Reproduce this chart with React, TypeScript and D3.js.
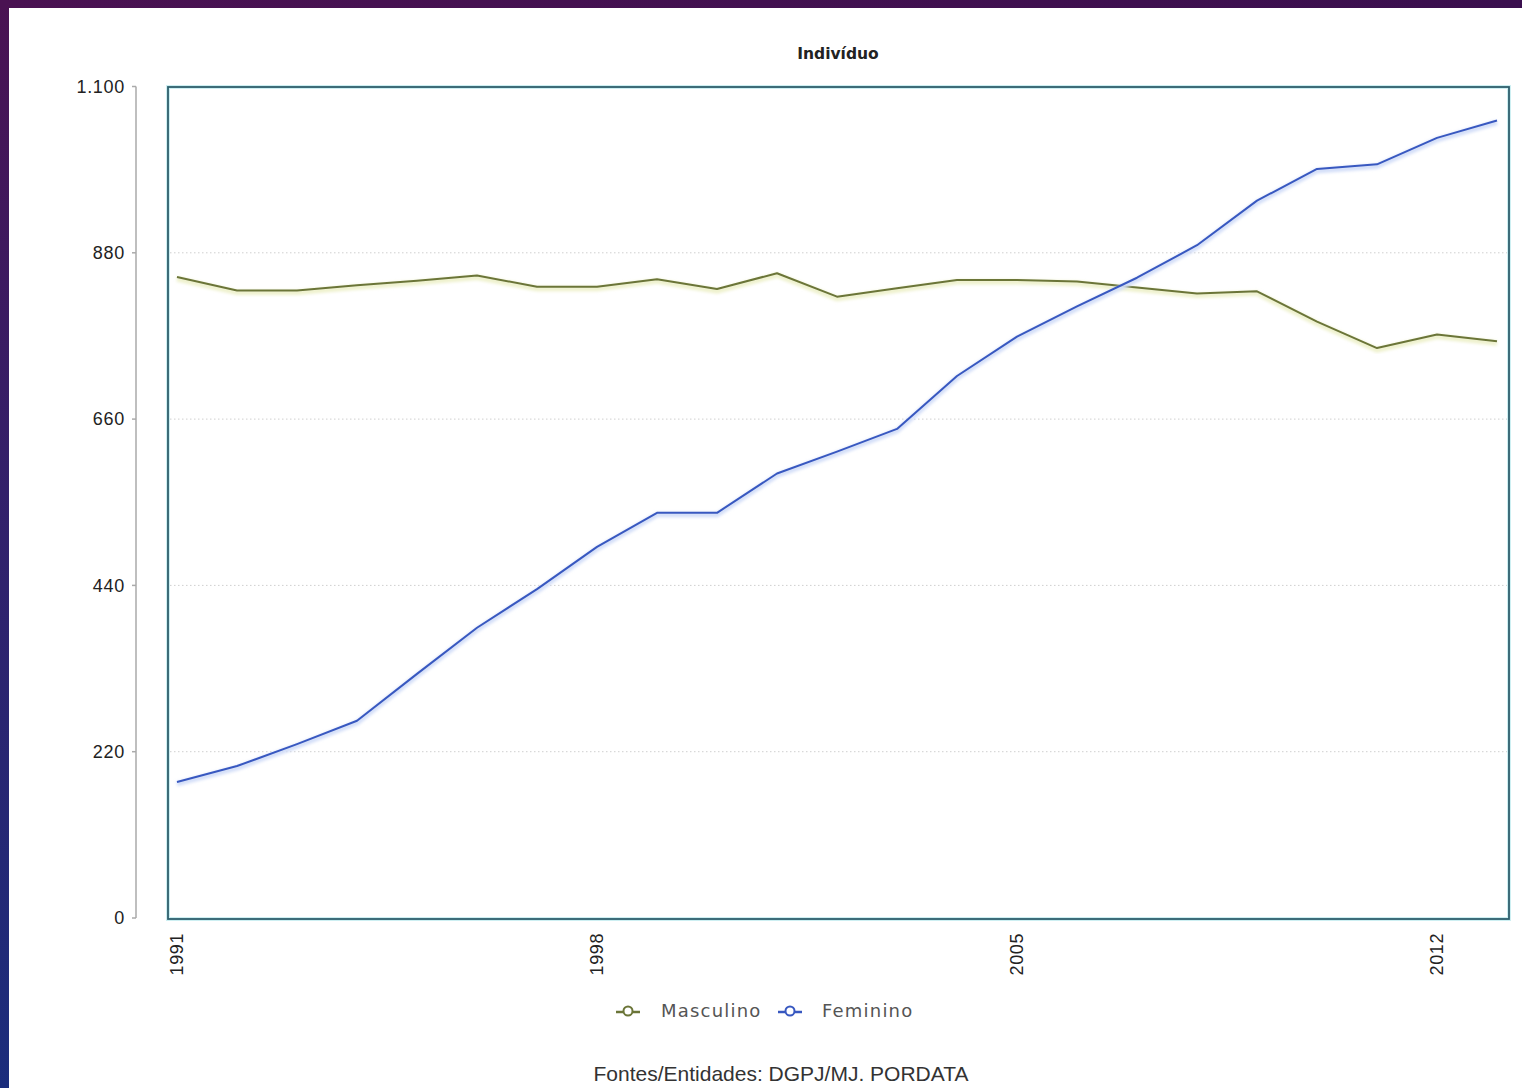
import React from "react";
import * as d3 from "d3";

const years = d3.range(1991, 2014);
const masculino = [848, 830, 830, 837, 843, 850, 835, 835, 845, 832, 853, 822, 833, 844, 844, 842, 834, 826, 829, 789, 754, 772, 763];
const feminino = [180, 201, 230, 261, 323, 384, 435, 491, 536, 536, 588, 617, 647, 717, 769, 809, 847, 890, 949, 991, 997, 1032, 1055];
const yTicks = [0, 220, 440, 660, 880, 1100];
const xTicks = [1991, 1998, 2005, 2012];
const seriesNames = ["Masculino", "Feminino"];
const seriesColors = ["#6b7538", "#3858c0"];
const glowColors = ["#eef1cc", "#d3def8"];
const title = "Indivíduo";
const source = "Fontes/Entidades: DGPJ/MJ. PORDATA";

const W = 1522;
const H = 1088;
const frame = { left: 168, right: 1509, top: 87, bottom: 919 };

export default function App() {
  const x = d3.scaleLinear().domain([1991, 2013]).range([177, 1497]);
  const y = d3.scaleLinear().domain([0, 1100]).range([918, 86.5]);
  const fmt = d3.formatLocale({ decimal: ",", thousands: ".", grouping: [3], currency: ["", "€"] }).format(",d");
  const line = d3
    .line<number>()
    .x((_, i) => x(years[i]))
    .y((d) => y(d));
  const series = [masculino, feminino];
  const legendItems = [
    { marker: 628, text: 661 },
    { marker: 790, text: 822 },
  ];

  return (
    <svg
      width={W}
      height={H}
      style={{ position: "absolute", left: 0, top: 0, display: "block" }}
      fontFamily="Arial, 'Liberation Sans', sans-serif"
    >
      <defs>
        <linearGradient id="bg" x1="0" y1="0" x2="0" y2="1">
          <stop offset="0" stopColor="#4a1252" />
          <stop offset="0.45" stopColor="#33206a" />
          <stop offset="1" stopColor="#1b2d7c" />
        </linearGradient>
        <linearGradient id="bgTop" x1="0" y1="0" x2="1" y2="0">
          <stop offset="0" stopColor="#4a1252" />
          <stop offset="1" stopColor="#3a0f4e" />
        </linearGradient>
        <filter id="blur" x="-5%" y="-5%" width="110%" height="110%">
          <feGaussianBlur stdDeviation="1.5" />
        </filter>
      </defs>
      <rect x={0} y={0} width={W} height={H} fill="url(#bg)" />
      <rect x={0} y={0} width={W} height={9} fill="url(#bgTop)" />
      <rect x={9} y={8} width={W - 9} height={H - 8} fill="#ffffff" />

      <text
        x={838}
        y={59}
        textAnchor="middle"
        fontFamily="'DejaVu Sans', Verdana, sans-serif"
        fontWeight="bold"
        fontSize={15.5}
        fill="#222"
      >
        {title}
      </text>

      {/* gridlines */}
      {yTicks
        .filter((t) => t > 0 && t < 1100)
        .map((t) => (
          <line
            key={"g" + t}
            x1={frame.left + 2}
            x2={frame.right - 2}
            y1={y(t)}
            y2={y(t)}
            stroke="#cfcfcf"
            strokeWidth={1}
            strokeDasharray="1.5,2.5"
          />
        ))}

      {/* y axis */}
      <line x1={136} x2={136} y1={y(1100)} y2={y(0)} stroke="#aaaaaa" strokeWidth={1.5} />
      {yTicks.map((t) => (
        <g key={"y" + t}>
          <line x1={132} x2={136} y1={y(t)} y2={y(t)} stroke="#aaaaaa" strokeWidth={1.5} />
          <text x={125} y={y(t)} dy="0.35em" textAnchor="end" fontSize={18} fill="#222" letterSpacing={0.7}>
            {fmt(t)}
          </text>
        </g>
      ))}

      {/* series */}
      {series.map((s, i) => (
        <g key={"s" + i}>
          <path d={line(s) || ""} fill="none" stroke={glowColors[i]} strokeWidth={5} filter="url(#blur)" transform="translate(0,2)" />
          <path d={line(s) || ""} fill="none" stroke={seriesColors[i]} strokeWidth={2} strokeLinejoin="round" />
        </g>
      ))}

      {/* frame */}
      <rect
        x={frame.left}
        y={frame.top}
        width={frame.right - frame.left}
        height={frame.bottom - frame.top}
        fill="none"
        stroke="#cdeff2"
        strokeWidth={4}
      />
      <rect
        x={frame.left}
        y={frame.top}
        width={frame.right - frame.left}
        height={frame.bottom - frame.top}
        fill="none"
        stroke="#2e5e6c"
        strokeWidth={1.8}
      />

      {/* x labels */}
      {xTicks.map((t) => (
        <text
          key={"x" + t}
          transform={`translate(${x(t)},933) rotate(-90)`}
          textAnchor="end"
          dy="0.35em"
          fontSize={18}
          fill="#222"
          letterSpacing={0.6}
        >
          {t}
        </text>
      ))}

      {/* legend */}
      {seriesNames.map((n, i) => (
        <g key={"l" + n}>
          <line
            x1={legendItems[i].marker - 12}
            x2={legendItems[i].marker + 12}
            y1={1012}
            y2={1012}
            stroke={seriesColors[i]}
            strokeWidth={2.5}
          />
          <circle cx={legendItems[i].marker} cy={1011} r={4.5} fill="#fff" stroke={seriesColors[i]} strokeWidth={2} />
          <text
            x={legendItems[i].text}
            y={1017}
            fontFamily="'DejaVu Sans', Verdana, sans-serif"
            fontSize={18}
            fill="#555"
            letterSpacing={1.2}
          >
            {n}
          </text>
        </g>
      ))}

      <text x={781} y={1081} textAnchor="middle" fontSize={21} fill="#333">
        {source}
      </text>
    </svg>
  );
}
